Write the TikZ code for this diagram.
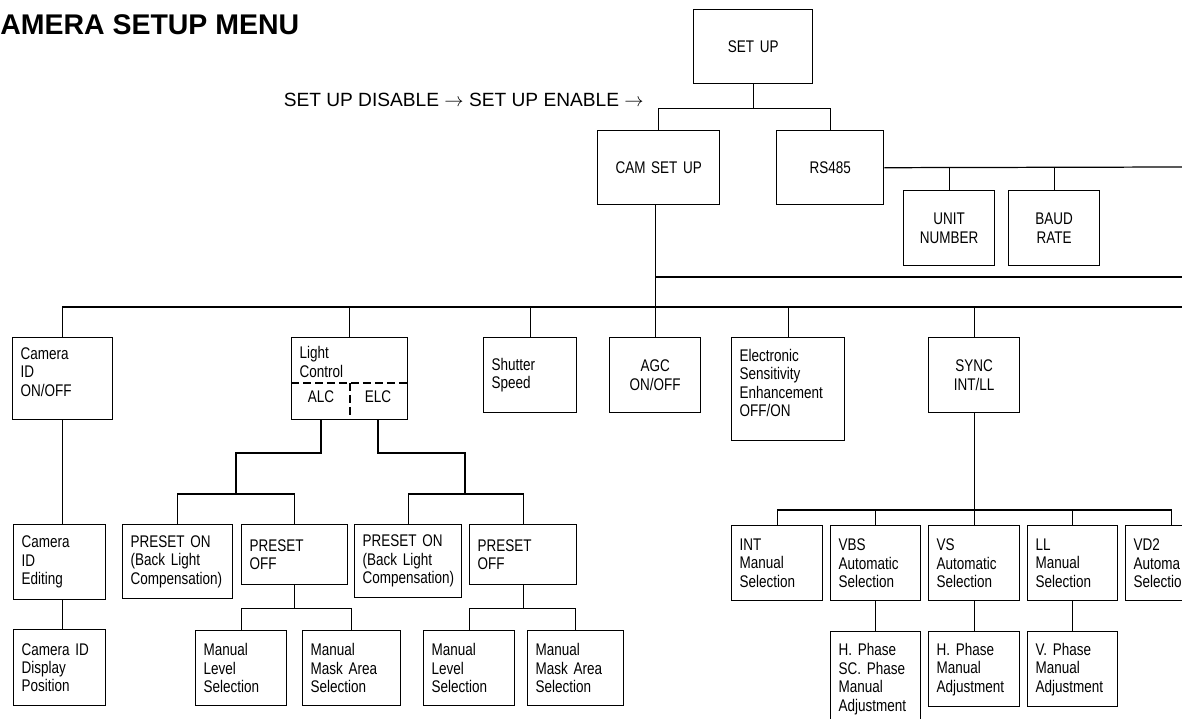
\documentclass[tikz,border=0pt]{standalone}
\usepackage{fontspec}
\setmainfont{Liberation Sans}[FakeStretch=0.8]
\newfontfamily\headfont{Liberation Sans}
\usetikzlibrary{calc}
% deepens the last line of a box text, so that the text sits higher
\newcommand{\lowstrut}[1]{\rule[-#1]{0pt}{0pt}}

\begin{document}
\begin{tikzpicture}[x=0.02cm,y=-0.02cm,
    every node/.style={font=\fontsize{9.6}{10.5}\selectfont},
    menubox/.style 2 args={draw,line width=0.8pt,inner xsep=0.16cm,inner ysep=0pt,
        minimum width=#1*0.02cm,minimum height=#2*0.02cm,
        text width=#1*0.02cm-0.32cm,align=left,anchor=north west},
    midbox/.style 2 args={menubox={#1}{#2},align=center},
    link/.style={line width=0.7pt}]

    \useasboundingbox (0,0) rectangle (1182,719);
    \clip (0,0) rectangle (1182,719);

    %headings
    \node[font={\headfont\bfseries\fontsize{16.2}{18}\selectfont},anchor=base west,inner sep=0pt]
        (title) at (0,35) {AMERA SETUP MENU};
    \node[font={\headfont\fontsize{10.9}{12}\selectfont},anchor=base east,inner sep=0pt]
        (enable) at (644,107) {SET UP DISABLE $\rightarrow$ SET UP ENABLE $\rightarrow$};

    %top levels
    \node[midbox={119}{74}] (setup) at (693,9) {SET UP};
    \node[midbox={122}{74}] (camsetup) at (597,130) {CAM SET UP};
    \node[midbox={107}{74}] (rs485) at (776,130) {RS485};
    \node[midbox={91}{75}] (unit) at (903,190) {UNIT\\NUMBER};
    \node[midbox={91}{75}] (baud) at (1008,190) {BAUD\\RATE};

    %camera set up items
    \node[menubox={100}{82}] (camid) at (12,337) {Camera\\ID\\ON/OFF\lowstrut{8pt}};
    \node[menubox={116}{82}] (light) at (291,337) {Light\\Control\lowstrut{19pt}};
    \node[menubox={93}{75}] (shutter) at (483,337) {Shutter\\Speed};
    \node[midbox={91}{75}] (agc) at (609,337) {AGC\\ON/OFF};
    \node[menubox={113}{103}] (ese) at (731,337) {Electronic\\Sensitivity\\Enhancement\\OFF/ON\lowstrut{7pt}};
    \node[midbox={91}{75}] (sync) at (928,337) {SYNC\\INT/LL};

    %light control split
    \coordinate (lsplit) at (350,383);
    \draw[dash pattern=on 0.16cm off 0.08cm,line width=0.7pt] (light.west |- lsplit) -- (light.east |- lsplit);
    \draw[dash pattern=on 0.16cm off 0.08cm,line width=0.7pt] (lsplit) -- (lsplit |- light.south);
    \node[inner sep=0pt] (alc) at (321,397) {ALC};
    \node[inner sep=0pt] (elc) at (378,397) {ELC};

    %third row
    \node[menubox={92}{75}] (camedit) at (13,524) {Camera\\ID\\Editing};
    \node[menubox={110}{74}] (presetonA) at (122,524) {PRESET ON\\(Back Light\\Compensation)};
    \node[menubox={106}{60}] (presetoffA) at (241,524) {PRESET\\OFF};
    \node[menubox={107}{73}] (presetonB) at (354,524) {PRESET ON\\(Back Light\\Compensation)};
    \node[menubox={107}{60}] (presetoffB) at (469,524) {PRESET\\OFF};
    \node[menubox={91}{75}] (int) at (731,525) {INT\\Manual\\Selection};
    \node[menubox={90}{75}] (vbs) at (830,525) {VBS\\Automatic\\Selection};
    \node[menubox={91}{75}] (vs) at (928,525) {VS\\Automatic\\Selection};
    \node[menubox={90}{75}] (ll) at (1027,525) {LL\\Manual\\Selection};
    \node[menubox={91}{75}] (vd2) at (1125,525) {VD2\\Automa\\Selectio};

    %bottom row
    \node[menubox={92}{76}] (campos) at (13,629) {Camera ID\\Display\\Position};
    \node[menubox={91}{75}] (levelA) at (195,630) {Manual\\Level\\Selection};
    \node[menubox={98}{75}] (maskA) at (302,630) {Manual\\Mask Area\\Selection};
    \node[menubox={91}{75}] (levelB) at (423,630) {Manual\\Level\\Selection};
    \node[menubox={96}{75}] (maskB) at (527,630) {Manual\\Mask Area\\Selection};
    \node[menubox={90}{95}] (hsc) at (830,631) {H. Phase\\SC. Phase\\Manual\\Adjustment};
    \node[menubox={91}{75}] (hph) at (928,631) {H. Phase\\Manual\\Adjustment};
    \node[menubox={90}{75}] (vph) at (1027,631) {V. Phase\\Manual\\Adjustment};

    \begin{scope}[link]
        %set up branches
        \draw (setup.south) -- ++(0,24) coordinate (topbar);
        \draw (camsetup.north) |- (topbar) -| (rs485.north);
        \coordinate (rsend) at (1182,167);
        \draw (rs485.east) -- (rsend);
        \draw (unit.north) -- (unit.north |- rsend);
        \draw (baud.north) -- (baud.north |- rsend);

        %cam set up bus
        \draw (agc.north |- camsetup.south) -- (agc.north);
        \coordinate (camend) at (1182,277);
        \draw (agc.north |- camend) -- (camend);
        \coordinate (busend) at (1182,307);
        \draw (camid.north) |- (busend);
        \foreach \n in {light,shutter,ese,sync}
            \draw (\n.north) -- (\n.north |- busend);

        %camera id
        \draw (camid.south) -- (camid.south |- camedit.north);
        \draw (camid.south |- camedit.south) -- (camid.south |- campos.north);

        %ALC and ELC
        \coordinate (alcbend) at (236,453);
        \coordinate (alcbar) at (236,494);
        \draw (alc |- light.south) |- (alcbend) -- (alcbar);
        \draw (presetonA.north) |- (alcbar) -| (presetoffA.north);
        \coordinate (elcbend) at (465,453);
        \coordinate (elcbar) at (465,494);
        \draw (elc |- light.south) |- (elcbend) -- (elcbar);
        \draw (presetonB.north) |- (elcbar) -| (presetoffB.north);
        \draw (presetoffA.south) -- ++(0,23) coordinate (offbarA);
        \draw (levelA.north) |- (offbarA) -| (maskA.north);
        \draw (presetoffB.south) -- ++(0,23) coordinate (offbarB);
        \draw (levelB.north) |- (offbarB) -| (maskB.north);

        %sync
        \draw (sync.south) -- (vs.north);
        \coordinate (syncbar) at (973.5,510);
        \draw (int.north) |- (syncbar) -| (vd2.north);
        \draw (vbs.north) -- (vbs.north |- syncbar);
        \draw (ll.north) -- (ll.north |- syncbar);
        \draw (vbs.south) -- (hsc.north);
        \draw (vs.south) -- (hph.north);
        \draw (ll.south) -- (vph.north);
    \end{scope}
\end{tikzpicture}
\end{document}
